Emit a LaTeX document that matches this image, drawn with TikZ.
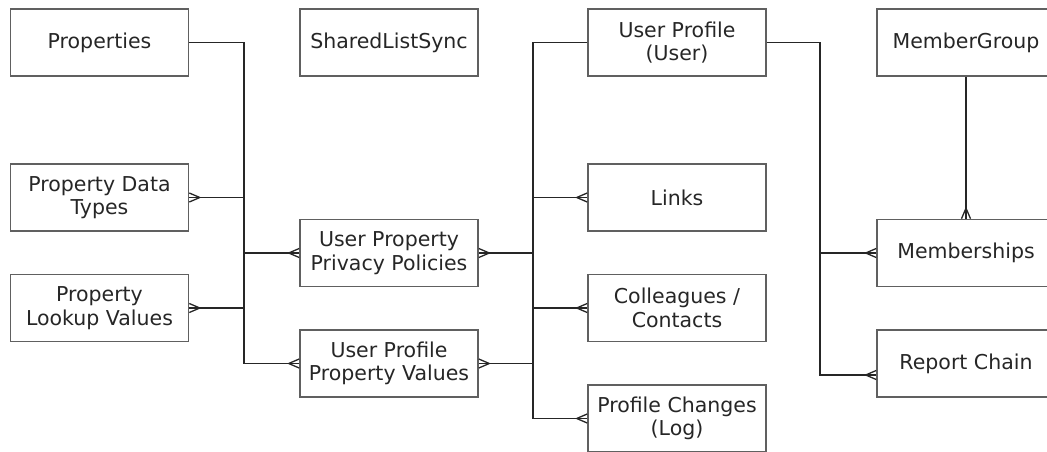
\documentclass[tikz,border=0pt]{standalone}
\usepackage{fontspec}
\setmainfont{DejaVu Sans}
\pgfdeclarearrow{
  name = Crow,
  setup code = {
    \pgfarrowssettipend{0pt}
    \pgfarrowssetlineend{0pt}
    \pgfarrowssetbackend{-10.5pt}
    \pgfarrowshullpoint{0pt}{4.5pt}
    \pgfarrowshullpoint{0pt}{-4.5pt}
    \pgfarrowshullpoint{-10.5pt}{0pt}
  },
  drawing code = {
    \pgfpathmoveto{\pgfpoint{-10.5pt}{0pt}}
    \pgfpathlineto{\pgfpoint{0pt}{4.5pt}}
    \pgfpathmoveto{\pgfpoint{-10.5pt}{0pt}}
    \pgfpathlineto{\pgfpoint{0pt}{-4.5pt}}
    \pgfusepathqstroke
  }
}
\definecolor{boxline}{HTML}{606060}
\definecolor{txt}{HTML}{262626}
\tikzset{
  entity/.style={draw=boxline, line width=1.6pt, minimum width=178pt, minimum height=67pt,
    inner sep=0pt, align=center, text=txt,
    font=\fontsize{20.5}{23.5}\selectfont},
  conn/.style={draw=black!85, line width=1.3pt},
}
\begin{document}
\begin{tikzpicture}[x=1pt,y=-1pt]
\useasboundingbox (0,0) rectangle (1047,451);
% entities (centres in px)
\node[entity] (props) at (99.5,42.5) {Properties};
\node[entity] (sls)   at (389,42.5) {SharedListSync};
\node[entity] (pdt)   at (99.5,197.5) {Property Data\\Types};
\node[entity] (plv)   at (99.5,308) {Property\\Lookup Values};
\node[entity] (uppp)  at (389,253) {User Property\\Privacy Policies};
\node[entity] (uppv)  at (389,363.5) {User Profile\\Property Values};
\node[entity] (up)    at (677,42.5) {User Profile\\(User)};
\node[entity] (links) at (677,197.5) {Links};
\node[entity] (coll)  at (677,308) {Colleagues /\\Contacts};
\node[entity] (pc)    at (677,418.5) {Profile Changes\\(Log)};
\node[entity] (mg)    at (966,42.5) {MemberGroup};
\node[entity] (mem)   at (966,253) {Memberships};
\node[entity] (rc)    at (966,363.5) {Report Chain};
% bus coordinates
\coordinate (busL) at (244,0);
\coordinate (busM) at (533,0);
\coordinate (busR) at (820,0);
\coordinate (rcin) at ([yshift=-11.5pt]rc.west);
% Properties relationships
\draw[conn,-Crow] (props.east) -| (busL |- pdt.east) -- (pdt.east);
\draw[conn,-Crow] (props.east) -| (busL |- plv.east) -- (plv.east);
\draw[conn,-Crow] (props.east) -| (busL |- uppp.west) -- (uppp.west);
\draw[conn,-Crow] (props.east) -| (busL |- uppv.west) -- (uppv.west);
% User Profile relationships (left)
\draw[conn,-Crow] (up.west) -| (busM |- uppp.east) -- (uppp.east);
\draw[conn,-Crow] (up.west) -| (busM |- uppv.east) -- (uppv.east);
\draw[conn,-Crow] (up.west) -| (busM |- links.west) -- (links.west);
\draw[conn,-Crow] (up.west) -| (busM |- coll.west) -- (coll.west);
\draw[conn,-Crow] (up.west) -| (busM |- pc.west) -- (pc.west);
% User Profile relationships (right)
\draw[conn,-Crow] (up.east) -| (busR |- mem.west) -- (mem.west);
\draw[conn,-Crow] (up.east) -| (busR |- rcin) -- (rcin);
% MemberGroup to Memberships
\draw[conn,-Crow] (mg.south) -- (mem.north);
\end{tikzpicture}
\end{document}
